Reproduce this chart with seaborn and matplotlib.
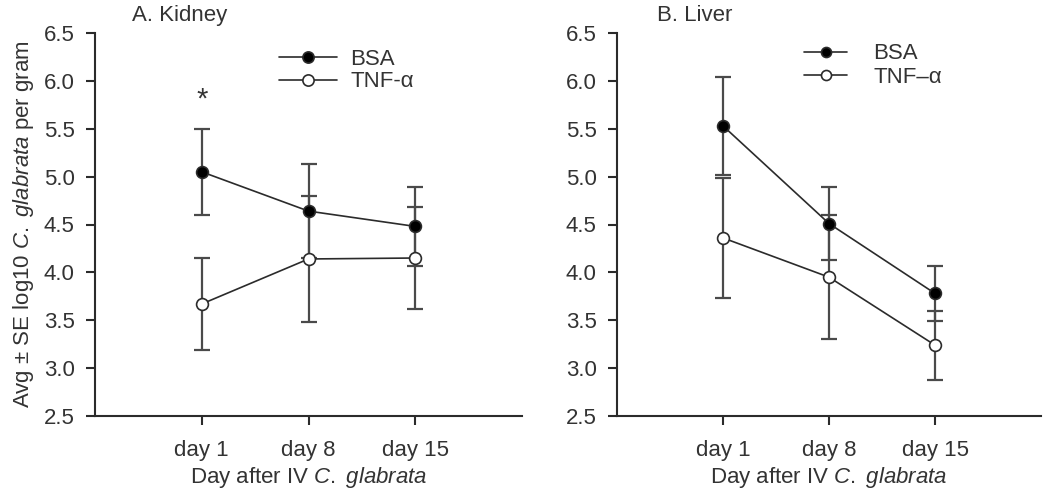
import matplotlib
matplotlib.use("Agg")
import matplotlib.pyplot as plt
import seaborn as sns
import pandas as pd

days = ["day 1", "day 8", "day 15"]

kidney_bsa = [5.05, 4.64, 4.48]
kidney_bsa_se = [0.45, 0.49, 0.41]
kidney_tnf = [3.67, 4.14, 4.15]
kidney_tnf_se = [0.48, 0.66, 0.53]

liver_bsa = [5.53, 4.51, 3.78]
liver_bsa_se = [0.51, 0.38, 0.29]
liver_tnf = [4.36, 3.95, 3.24]
liver_tnf_se = [0.63, 0.65, 0.36]

sns.set_style("ticks")
plt.rcParams['font.family'] = ['Liberation Sans', 'DejaVu Sans']
plt.rcParams['mathtext.fontset'] = 'custom'
plt.rcParams['mathtext.rm'] = 'Liberation Sans'
plt.rcParams['mathtext.it'] = 'Liberation Sans:italic'

dark = "#2b2b2b"
bar_col = "#4a4a4a"
text_col = "#333333"
fs = 16

fig = plt.figure(figsize=(10.5, 5.01), dpi=100)
ax1 = fig.add_axes([95 / 1050, 1 - 416 / 501, 427 / 1050, 383 / 501])
ax2 = fig.add_axes([617 / 1050, 1 - 416 / 501, 424 / 1050, 383 / 501])


def draw_panel(ax, bsa, bsa_se, tnf, tnf_se, tnf_label):
    ax.errorbar(days, bsa, yerr=bsa_se, fmt="none", ecolor=bar_col,
                elinewidth=1.6, capsize=5.8, capthick=1.6, zorder=1.5)
    ax.errorbar(days, tnf, yerr=tnf_se, fmt="none", ecolor=bar_col,
                elinewidth=1.6, capsize=5.8, capthick=1.6, zorder=1.5)
    d1 = pd.DataFrame({"day": days, "val": bsa})
    d2 = pd.DataFrame({"day": days, "val": tnf})
    sns.lineplot(data=d1, x="day", y="val", ax=ax, color=dark, lw=1.2,
                 marker="o", markersize=8.5, markerfacecolor="black",
                 markeredgecolor=dark, markeredgewidth=1.2, label="BSA",
                 zorder=3, sort=False)
    sns.lineplot(data=d2, x="day", y="val", ax=ax, color=dark, lw=1.2,
                 marker="o", markersize=8.5, markerfacecolor="white",
                 markeredgecolor=dark, markeredgewidth=1.2, label=tnf_label,
                 zorder=3, sort=False)
    ax.set_xlim(-1, 3)
    ax.set_ylim(2.5, 6.5)
    ax.set_yticks([2.5, 3.0, 3.5, 4.0, 4.5, 5.0, 5.5, 6.0, 6.5])
    ax.set_yticklabels(["2.5", "3.0", "3.5", "4.0", "4.5", "5.0", "5.5", "6.0", "6.5"])
    ax.set_xlabel("Day after IV $\\mathit{C.}$ $\\mathit{glabrata}$", fontsize=fs,
                  color=text_col, labelpad=3)
    ax.set_ylabel("")
    for s in ["top", "right"]:
        ax.spines[s].set_visible(False)
    for s in ["left", "bottom"]:
        ax.spines[s].set_linewidth(1.5)
        ax.spines[s].set_color(dark)
    ax.tick_params(axis="both", length=6.5, width=1.5, color=dark,
                   labelsize=fs, labelcolor=text_col)
    ax.tick_params(axis="x", pad=11)
    ax.tick_params(axis="y", pad=8)


draw_panel(ax1, kidney_bsa, kidney_bsa_se, kidney_tnf, kidney_tnf_se, "TNF-α")
draw_panel(ax2, liver_bsa, liver_bsa_se, liver_tnf, liver_tnf_se, "TNF–α")

ax1.set_ylabel("Avg ± SE log10 $\\mathit{C.}$ $\\mathit{glabrata}$ per gram",
               fontsize=fs, color=text_col, labelpad=6)

ax1.text("day 1", 5.8, "*", ha="center", va="center", fontsize=21, color=text_col)

ax1.text(0.087, 1.031, "A. Kidney", transform=ax1.transAxes, fontsize=fs,
         color=text_col, va="baseline", ha="left")
ax2.text(0.094, 1.031, "B. Liver", transform=ax2.transAxes, fontsize=fs,
         color=text_col, va="baseline", ha="left")

ax1.legend(loc="upper left", bbox_to_anchor=(0.385, 1.01), frameon=False,
           fontsize=fs, handlelength=2.6, handletextpad=0.6,
           labelspacing=0.05, markerscale=0.95, labelcolor=text_col)
ax2.legend(loc="upper left", bbox_to_anchor=(0.395, 1.025), frameon=False,
           fontsize=fs, handlelength=1.9, handletextpad=1.2,
           labelspacing=0.1, markerscale=0.85, labelcolor=text_col)

fig.savefig("out.png", dpi=100)
